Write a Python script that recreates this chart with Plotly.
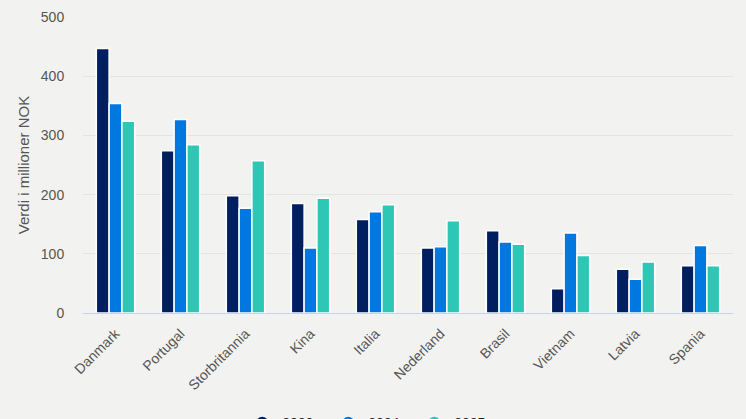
import plotly.graph_objects as go

# Verdier lest av figuren
land = ["Danmark", "Portugal", "Storbritannia", "Kina", "Italia",
        "Nederland", "Brasil", "Vietnam", "Latvia", "Spania"]
verdi_2023 = [447, 274, 198, 185, 158, 110, 139, 41, 74, 80]
verdi_2024 = [354, 327, 177, 110, 171, 112, 120, 135, 57, 114]
verdi_2025 = [324, 284, 257, 194, 183, 156, 116, 97, 86, 80]
y_ticks = [0, 100, 200, 300, 400, 500]

fig = go.Figure()
for navn, verdier, farge in [("2023", verdi_2023, "#001f60"),
                             ("2024", verdi_2024, "#0078e0"),
                             ("2025", verdi_2025, "#2ec7b6")]:
    fig.add_trace(go.Bar(x=land, y=verdier, name=navn, showlegend=False,
                         marker=dict(color=farge, line=dict(color="white", width=1.5))))
    # runde symboler i legenden
    fig.add_trace(go.Scatter(x=[None], y=[None], name=navn, mode="markers",
                             marker=dict(color=farge, size=16, symbol="circle")))

fig.update_layout(
    width=746, height=419,
    barmode="group", bargap=0.41, bargroupgap=0,
    paper_bgcolor="#f2f3f1", plot_bgcolor="#f2f3f1",
    font=dict(family="Liberation Sans", size=14, color="#555555"),
    margin=dict(l=83, r=13, t=17, b=106, autoexpand=False),
    legend=dict(orientation="h", x=0.245, xanchor="left", y=-0.318, yanchor="top",
                font=dict(size=14, color="#222222"), itemsizing="constant",
                entrywidth=41, entrywidthmode="pixels", bgcolor="rgba(0,0,0,0)"),
)
fig.update_xaxes(tickangle=-45, showline=True, linecolor="#c5d3e8", linewidth=1,
                 ticks="outside", ticklen=6, tickcolor="rgba(0,0,0,0)",
                 tickfont=dict(size=14, color="#555555"))
fig.update_yaxes(title=dict(text="Verdi i millioner NOK", font=dict(size=15, color="#555555"), standoff=7),
                 range=[0, 500], tickvals=y_ticks, gridcolor="#e3e5e3", gridwidth=1,
                 zeroline=False, ticks="outside", ticklen=15, tickcolor="rgba(0,0,0,0)",
                 tickfont=dict(size=14, color="#555555"))

fig.write_html("out.html", config=dict(displayModeBar=False),
               post_script="document.body.style.margin='0';document.body.style.overflow='hidden';")
